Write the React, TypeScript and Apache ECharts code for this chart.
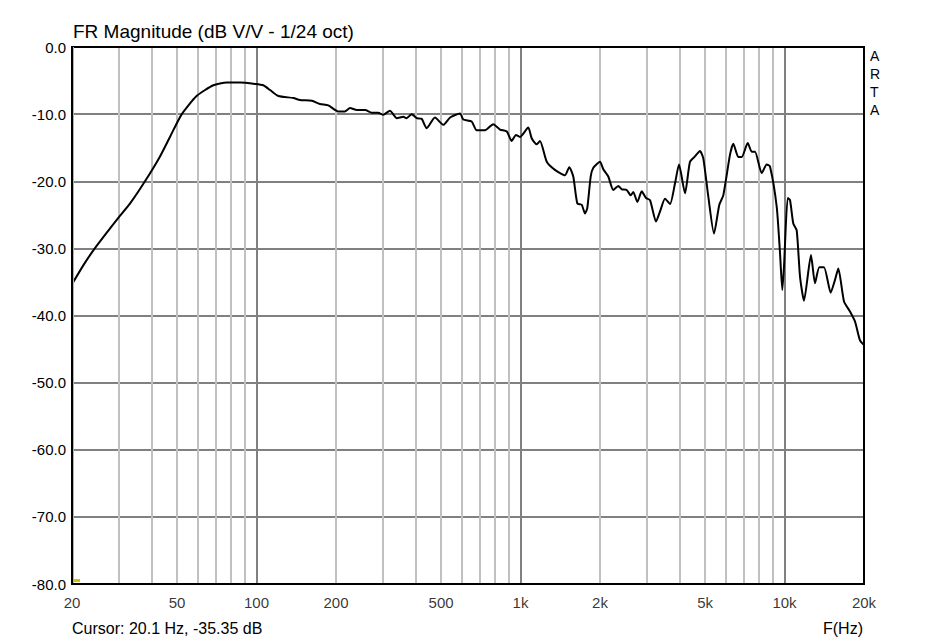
import React, { useEffect, useRef } from "react";
import * as echarts from "echarts";

// Frequency response
const freqHz = [
  20, 22.1, 24.4, 29.9, 33.2, 37.8, 43.1, 47.0, 52.1, 59.3, 68.6, 77.1, 86.6, 98.7, 106, 112.5,
  121, 138, 146, 162, 174, 187, 204, 216, 226, 240, 258, 273, 289, 302, 320, 340, 360, 370,
  387, 404, 422, 441, 474, 510, 541, 590, 607, 653, 682, 734, 788, 836, 887, 926, 961, 995,
  1070, 1102, 1151, 1185, 1257, 1350, 1474, 1530, 1584, 1641, 1705, 1755, 1790, 1844, 1887,
  2000, 2058, 2150, 2246, 2346, 2418, 2524, 2614, 2674, 2770, 2878, 2988, 3094, 3260, 3376,
  3526, 3684, 3848, 3984, 4198, 4384, 4578, 4784, 4924, 5144, 5406, 5662, 5862, 6218, 6400,
  6684, 6884, 7254, 7510, 7730, 8196, 8560, 8810, 9340, 9614, 9808, 9954, 10280, 10488,
  10794, 11120, 11446, 11850, 12596, 13044, 13544, 14110, 14958, 15530, 15984, 16800, 17702,
  18492, 19312, 20000,
];
const magDb = [
  -35.35, -32.5, -30.0, -25.5, -23.3, -20.0, -16.3, -13.4, -10.0, -7.3, -5.7, -5.3, -5.3, -5.5, -5.7, -6.4,
  -7.3, -7.6, -7.9, -8.0, -8.5, -8.7, -9.6, -9.6, -9.1, -9.4, -9.4, -9.8, -9.8, -10.1, -9.5, -10.6, -10.4, -10.6,
  -10.0, -10.6, -10.7, -12.1, -10.5, -11.6, -10.5, -9.9, -10.8, -11.1, -12.4, -12.4, -11.5, -12.3, -12.6, -14.0, -13.1, -13.4,
  -12.0, -13.6, -14.5, -14.0, -17.1, -18.3, -19.1, -17.9, -19.3, -23.3, -23.5, -24.8, -24.0, -19.3, -18.0,
  -17.1, -18.2, -19.3, -21.3, -20.7, -21.2, -21.3, -22.1, -21.6, -23.1, -21.5, -22.5, -22.8, -26.0, -24.5,
  -22.6, -23.4, -20.3, -17.5, -21.8, -17.1, -16.3, -15.5, -16.6, -22.3, -27.8, -23.5, -22.1, -16.0, -14.4,
  -16.4, -16.4, -14.3, -15.6, -15.6, -18.8, -17.5, -17.8, -23.8, -30.7, -36.2, -32.7, -22.5, -22.8,
  -26.3, -27.3, -34.2, -37.8, -31.0, -35.2, -32.8, -32.8, -36.6, -34.7, -33.0, -37.9, -39.4,
  -40.9, -43.7, -44.4,
];

// Axis ticks
const xTickValues = [20, 50, 100, 200, 500, 1000, 2000, 5000, 10000, 20000];
const xTickLabels = ["20", "50", "100", "200", "500", "1k", "2k", "5k", "10k", "20k"];
const xMinorGrid = [
  30, 40, 50, 60, 70, 80, 90, 200, 300, 400, 500, 600, 700, 800, 900,
  2000, 3000, 4000, 5000, 6000, 7000, 8000, 9000,
];
const xMajorGrid = [100, 1000, 10000];
const cursorFreq = 20.1;
const cursorDb = -35.35;

const FONT = "'Liberation Sans', Arial, sans-serif";

export default function App() {
  const ref = useRef<HTMLDivElement>(null);

  useEffect(() => {
    if (!ref.current) return;
    const chart = echarts.init(ref.current, undefined, { renderer: "svg" });
    const curve = freqHz.map((f, i) => [f, magDb[i]]);

    chart.setOption({
      animation: false,
      backgroundColor: "#ffffff",
      title: {
        text: "FR Magnitude (dB V/V - 1/24 oct)",
        left: 73,
        top: 22,
        padding: 0,
        textStyle: { fontFamily: FONT, fontSize: 19, fontWeight: "normal", color: "#000" },
      },
      grid: { left: 72, right: 73, top: 47, bottom: 57, containLabel: false },
      xAxis: {
        type: "log",
        logBase: 10,
        min: 20,
        max: 20000,
        axisLine: { show: false },
        axisTick: { show: false },
        axisLabel: { show: false },
        splitLine: { show: false },
      },
      yAxis: {
        type: "value",
        min: -80,
        max: 0,
        interval: 10,
        axisLine: { show: false },
        axisTick: { show: false },
        axisLabel: {
          formatter: (v: number) => v.toFixed(1),
          color: "#000",
          fontFamily: FONT,
          fontSize: 15,
          margin: 6,
        },
        splitLine: { show: true, lineStyle: { color: "#808080", width: 2 } },
      },
      series: [
        {
          type: "line",
          data: [],
          silent: true,
          z: 1,
          markLine: {
            silent: true,
            symbol: "none",
            label: { show: false },
            animation: false,
            data: [
              ...xMinorGrid.map((v) => ({ xAxis: v, lineStyle: { color: "#c0c0c0", width: 2, type: "solid" } })),
              ...xMajorGrid.map((v) => ({ xAxis: v, lineStyle: { color: "#808080", width: 2, type: "solid" } })),
            ],
          },
        },
        {
          type: "scatter",
          data: xTickValues.map((v, i) => ({ value: [v, -80], label: { formatter: xTickLabels[i] } })),
          symbolSize: 0,
          silent: true,
          clip: false,
          label: {
            show: true,
            position: "bottom",
            distance: 11,
            color: "#000",
            fontFamily: FONT,
            fontSize: 15,
          },
        },
        {
          type: "line",
          data: curve,
          showSymbol: false,
          symbol: "none",
          smooth: 0.2,
          z: 5,
          lineStyle: { color: "#000", width: 2 },
        },
      ],
      graphic: [
        {
          type: "rect",
          z: 100,
          shape: { x: 72, y: 47, width: 792, height: 537 },
          style: { fill: "none", stroke: "#000", lineWidth: 2 },
          silent: true,
        },
        {
          type: "line",
          z: 101,
          shape: { x1: 73.5, y1: 47, x2: 73.5, y2: 583 },
          style: { stroke: "#c8c800", lineWidth: 1 },
          silent: true,
        },
        {
          type: "rect",
          z: 101,
          shape: { x: 73, y: 579, width: 7, height: 3 },
          style: { fill: "#c8c800" },
          silent: true,
        },
        {
          type: "text",
          z: 101,
          left: 72,
          top: 620,
          style: {
            text: `Cursor: ${cursorFreq} Hz, ${cursorDb.toFixed(2)} dB`,
            fill: "#000",
            font: `16px ${FONT}`,
          },
        },
        {
          type: "text",
          z: 101,
          right: 74,
          top: 620,
          style: { text: "F(Hz)", fill: "#000", font: `16px ${FONT}` },
        },
        {
          type: "text",
          z: 101,
          left: 870,
          top: 47,
          style: {
            text: "A\nR\nT\nA",
            fill: "#000",
            font: `14px ${FONT}`,
            lineHeight: 18,
            align: "left",
          },
        },
      ],
    });

    return () => chart.dispose();
  }, []);

  return (
    <div
      ref={ref}
      style={{ position: "absolute", left: 0, top: 0, width: 937, height: 641 }}
    />
  );
}
